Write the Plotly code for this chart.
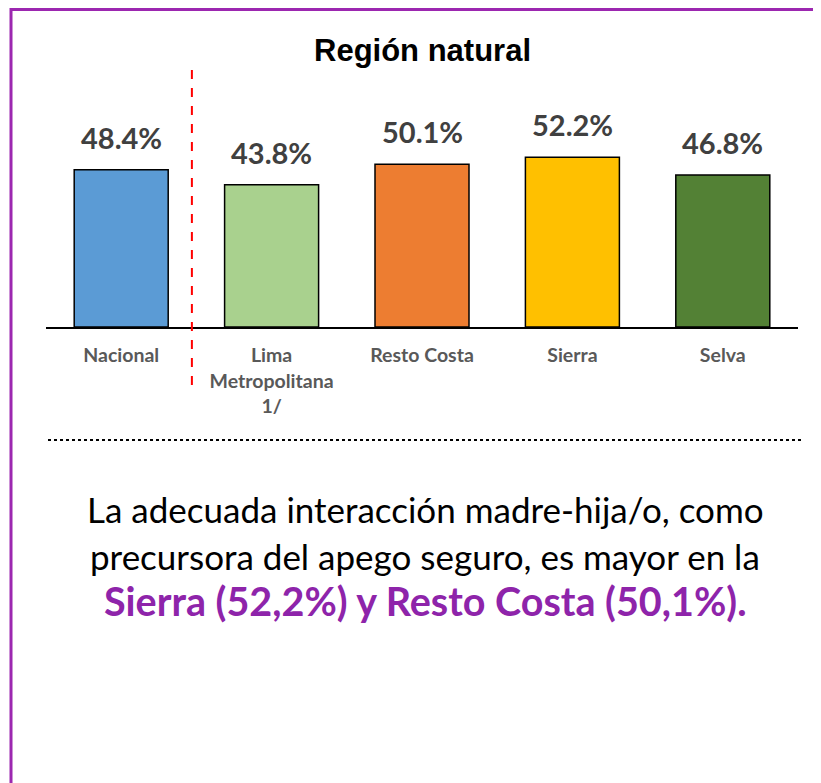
import plotly.graph_objects as go

categories = ["Nacional", "Lima<br>Metropolitana<br>1/", "Resto Costa", "Sierra", "Selva"]
values = [48.4, 43.8, 50.1, 52.2, 46.8]
value_labels = ["48.4%", "43.8%", "50.1%", "52.2%", "46.8%"]
colors = ["#5B9BD5", "#A9D18E", "#ED7D31", "#FFC000", "#538135"]

title_text = "Región natural"
body_line1 = "La adecuada interacción madre-hija/o, como"
body_line2 = "precursora del apego seguro, es mayor en la"
body_line3 = "Sierra (52,2%) y Resto Costa (50,1%)."

# the page body adds an 8px margin; figure coordinates are page coordinates minus 8
OFF = 8
W, H = 821 - OFF, 783 - OFF
L, T = 46 - OFF, 132 - OFF
R = W - (798 - OFF)
B = H - (327 - OFF)
PW, PH = W - L - R, H - T - B


def px(x):
    return (x - OFF - L) / PW


def py(y):
    return (H - B - (y - OFF)) / PH


fig = go.Figure()
fig.add_trace(go.Bar(
    x=categories, y=values,
    marker=dict(color=colors, line=dict(color="black", width=1.5)),
    hoverinfo="skip",
))

for c, v, t in zip(categories, values, value_labels):
    fig.add_annotation(x=c, y=v, xref="x", yref="y", text=t, showarrow=False,
                       yanchor="bottom", yshift=13,
                       font=dict(family="Lato", size=29, color="#404040", weight="bold"))

fig.add_annotation(x=px(422), y=py(51), xref="paper", yref="paper", text="<b>" + title_text + "</b>",
                   showarrow=False, xanchor="center", yanchor="middle",
                   font=dict(family="Liberation Sans, Arial", size=31, color="black"))

body_font = dict(family="Lato", size=35, color="black")
fig.add_annotation(x=px(425), y=py(509), xref="paper", yref="paper", text=body_line1,
                   showarrow=False, xanchor="center", yanchor="middle", font=body_font)
fig.add_annotation(x=px(425), y=py(556), xref="paper", yref="paper", text=body_line2,
                   showarrow=False, xanchor="center", yanchor="middle", font=body_font)
fig.add_annotation(x=px(425), y=py(600), xref="paper", yref="paper", text="<b>" + body_line3 + "</b>",
                   showarrow=False, xanchor="center", yanchor="middle",
                   font=dict(family="Lato", size=39.5, color="#8E24AA"))

# red dashed separator
fig.add_shape(type="line", xref="x", yref="paper", x0=0.47, x1=0.47, y0=py(70), y1=py(385),
              line=dict(color="#FF0000", width=2, dash="dash"))
# dotted separator
fig.add_shape(type="line", xref="paper", yref="paper", x0=px(48), x1=px(803), y0=py(440), y1=py(440),
              line=dict(color="black", width=2, dash="dot"))
# purple frame (top and left edges)
fig.add_shape(type="line", xref="paper", yref="paper", x0=px(10), x1=px(830), y0=py(9.5), y1=py(9.5),
              line=dict(color="#9C27B0", width=3), layer="above")
fig.add_shape(type="line", xref="paper", yref="paper", x0=px(11), x1=px(11), y0=py(8), y1=py(800),
              line=dict(color="#9C27B0", width=3), layer="above")

fig.update_layout(
    width=W, height=H,
    margin=dict(l=L, r=R, t=T, b=B),
    paper_bgcolor="white", plot_bgcolor="white",
    bargap=0.375,
    showlegend=False,
    xaxis=dict(showline=True, linecolor="black", linewidth=2, showgrid=False,
               ticks="", ticklabelstandoff=10,
               tickfont=dict(family="Lato", size=19.5, color="#595959", weight="bold"),
               range=[-0.5, 4.5]),
    yaxis=dict(visible=False, range=[0, 60], showgrid=False, zeroline=False),
)

fig.write_html("out.html", config={"displayModeBar": False})
